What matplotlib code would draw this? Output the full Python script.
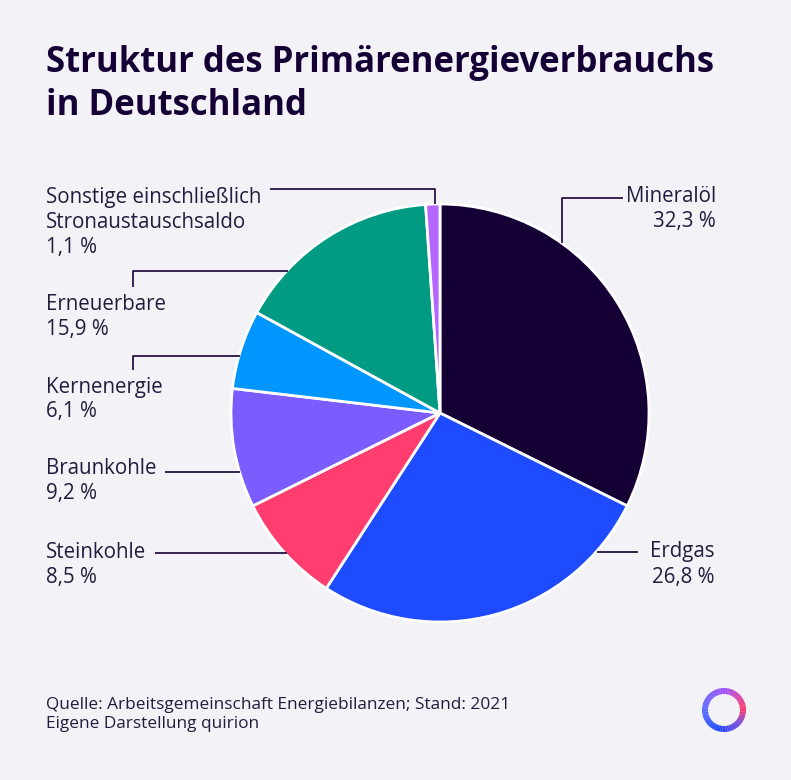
import matplotlib
matplotlib.use("Agg")
import matplotlib.pyplot as plt
from matplotlib.patches import Wedge
from matplotlib.colors import LinearSegmentedColormap

# ---------------- data ----------------
categories = ["Mineralöl", "Erdgas", "Steinkohle", "Braunkohle", "Kernenergie",
              "Erneuerbare", "Sonstige einschließlich\nStronaustauschsaldo"]
values = [32.3, 26.8, 8.5, 9.2, 6.1, 15.9, 1.1]
value_labels = ["32,3 %", "26,8 %", "8,5 %", "9,2 %", "6,1 %", "15,9 %", "1,1 %"]
colors = ["#150035", "#1f4bff", "#ff3d6e", "#7b5cff", "#0096ff", "#009b82", "#b566ff"]

title = "Struktur des Primärenergieverbrauchs\nin Deutschland"
footer = "Quelle: Arbeitsgemeinschaft Energiebilanzen; Stand: 2021\nEigene Darstellung quirion"

BG = "#f3f2f6"
DARK = "#150035"
TXT = "#221d3d"
FONT = ["Open Sans", "DejaVu Sans"]

W, H = 791, 780
fig = plt.figure(figsize=(W / 100, H / 100), dpi=100, facecolor=BG)
renderer = fig.canvas.get_renderer()

def fit_size(s, target_px, weight="normal"):
    t = fig.text(0, 0, s, fontsize=10, family=FONT, fontweight=weight)
    w = t.get_window_extent(renderer).width
    t.remove()
    return 10 * target_px / w

# ---------------- pie ----------------
cx, cy, r = 440, 413, 209
ax = fig.add_axes([(cx - r) / W, (H - cy - r) / H, 2 * r / W, 2 * r / H])
ax.set_facecolor(BG)
ax.pie(values, colors=colors, startangle=90, counterclock=False, radius=1,
       wedgeprops=dict(edgecolor="white", linewidth=2))
ax.set_xlim(-1, 1)
ax.set_ylim(-1, 1)
ax.axis("off")

# ---------------- overlay (pixel coordinates) ----------------
ov = fig.add_axes([0, 0, 1, 1], facecolor="none")
ov.set_xlim(0, W)
ov.set_ylim(H, 0)
ov.axis("off")

t1, t2 = title.split("\n")
TW = "bold"
tfs = fit_size(t1, 670, TW)
ov.text(46, 63, t1, fontsize=tfs, fontweight=TW, color=DARK,
        family=FONT, va="center", ha="left")
ov.text(46, 106, t2, fontsize=tfs, fontweight=TW, color=DARK,
        family=FONT, va="center", ha="left")

lfs = fit_size("Sonstige einschließlich", 216)
def label(x, y_lines, lines, ha="left"):
    for yy, s in zip(y_lines, lines):
        ov.text(x, yy, s, fontsize=lfs, color=TXT, family=FONT, va="center", ha=ha)

# left labels
label(46, [197, 222, 247], ["Sonstige einschließlich", "Stronaustauschsaldo", value_labels[6]])
label(46, [304, 329], [categories[5], value_labels[5]])
label(46, [387, 411], [categories[4], value_labels[4]])
label(46, [469, 494], [categories[3], value_labels[3]])
label(46, [552, 577], [categories[2], value_labels[2]])
# right labels
label(716, [196, 221], [categories[0], value_labels[0]], ha="right")
label(715, [552, 577], [categories[1], value_labels[1]], ha="right")

lk = dict(color=DARK, lw=1.2, solid_capstyle="butt")
ov.plot([270, 435, 435], [189, 189, 204], **lk)       # Sonstige
ov.plot([133, 133, 288], [287, 271, 271], **lk)       # Erneuerbare
ov.plot([133, 133, 240], [370, 356, 356], **lk)       # Kernenergie
ov.plot([165, 240], [472, 472], **lk)                 # Braunkohle
ov.plot([155, 287], [553, 553], **lk)                 # Steinkohle
ov.plot([597, 638], [552, 552], **lk)                 # Erdgas
ov.plot([562, 562, 623], [243, 198, 198], **lk)       # Mineralöl

# footer
f1, f2 = footer.split("\n")
ffs = fit_size(f1, 462)
ov.text(46, 705, f1, fontsize=ffs, color=TXT, family=FONT, va="center")
ov.text(46, 724, f2, fontsize=ffs, color=TXT, family=FONT, va="center")

# logo ring
lx, ly = 724, 710
stops = [(0, "#ff3a6e"), (90, "#9d55ff"), (180, "#5a6cff"), (250, "#1f4bff"), (320, "#7b4bd8"), (360, "#ff3a6e")]
cmap = LinearSegmentedColormap.from_list("q", [(a / 360, c) for a, c in stops])
n = 72
for i in range(n):
    a0 = i * 360 / n
    ov.add_patch(Wedge((lx, ly), 22, -a0 - 360 / n - 0.5, -a0, width=6,
                       facecolor=cmap(i / n), edgecolor="none"))

fig.savefig("out.png", dpi=100, facecolor=BG)
